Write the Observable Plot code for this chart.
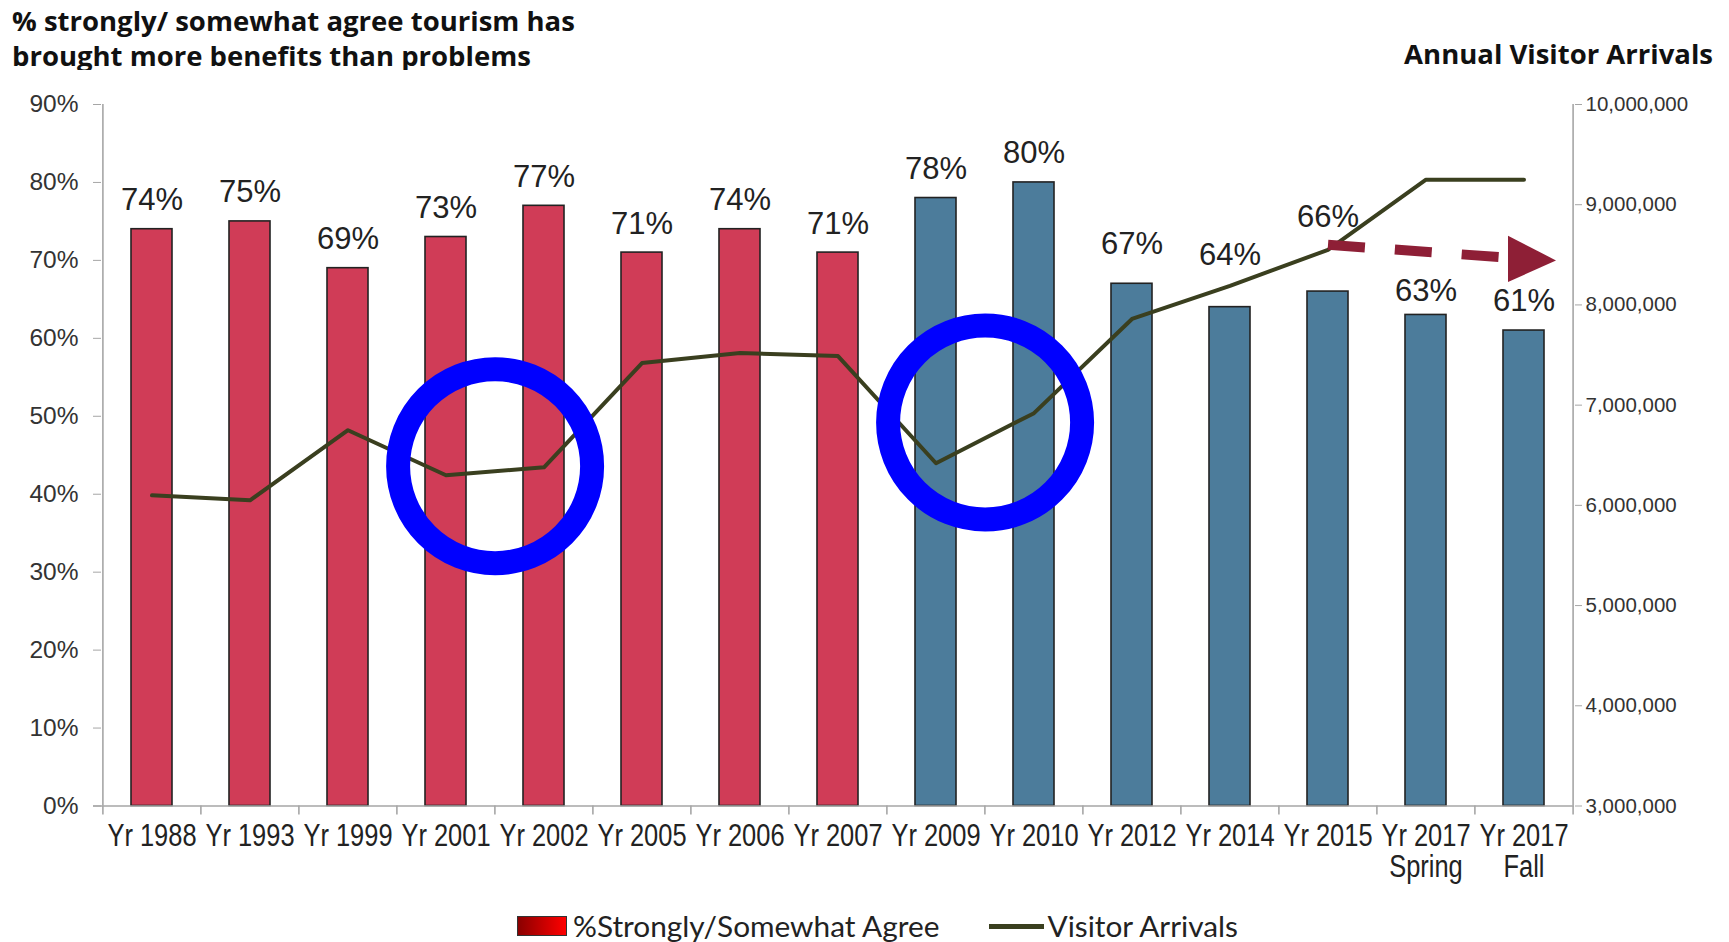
<!DOCTYPE html>
<html><head><meta charset="utf-8">
<script src="https://cdn.jsdelivr.net/npm/d3@7"></script>
<script src="https://cdn.jsdelivr.net/npm/@observablehq/plot@0.6"></script>
<style>
body{margin:0;background:#fff;}
#wrap{position:relative;width:1729px;height:942px;overflow:hidden;font-family:"Liberation Sans",Arial,sans-serif;color:#111;}
#title{position:absolute;left:12px;top:3px;font-family:"Open Sans","Noto Sans",sans-serif;font-weight:700;font-size:27.5px;line-height:35px;white-space:nowrap;}
#rtitle{position:absolute;right:16px;top:36px;font-family:"Open Sans","Noto Sans",sans-serif;font-weight:700;font-size:27.5px;line-height:35px;white-space:nowrap;}
#chart{position:absolute;left:0;top:70px;}
#legend{position:absolute;left:517px;top:911px;height:30px;line-height:30px;display:flex;align-items:center;font-family:Lato,"Liberation Sans",sans-serif;font-size:29.8px;color:#222;white-space:nowrap;}
.sw{width:48px;height:18px;border:1px solid #333;background:linear-gradient(90deg,#8a0000,#ff0000);margin-right:6px;}
.ln{width:55px;height:5px;background:#3a3f1f;margin:0 3px 0 50px;}
</style></head>
<body><div id="wrap">
<div id="title">% strongly/ somewhat agree tourism has<br>brought more benefits than problems</div>
<div id="rtitle">Annual Visitor Arrivals</div>
<div id="chart"></div>
<div id="legend"><div class="sw"></div><span>%Strongly/Somewhat Agree</span><div class="ln"></div><span>Visitor Arrivals</span></div>
</div>
<script>
const categories = ["Yr 1988","Yr 1993","Yr 1999","Yr 2001","Yr 2002","Yr 2005","Yr 2006","Yr 2007","Yr 2009","Yr 2010","Yr 2012","Yr 2014","Yr 2015","Yr 2017 Spring","Yr 2017 Fall"];
const agreePct = [74,75,69,73,77,71,74,71,78,80,67,64,66,63,61];
const colorGroup = ["pre","pre","pre","pre","pre","pre","pre","pre","post","post","post","post","post","post","post"];
const visitorArrivals = [6100000,6050000,6750000,6300000,6380000,7420000,7520000,7490000,6420000,6920000,7860000,8190000,8550000,9250000,9250000];
const labelNudge = [0,0,0,0,0,0,0,0,0,0,1.35,2.9,5.9,-0.6,0];
const leftTicks = [0,10,20,30,40,50,60,70,80,90];
const rightTicks = [3000000,4000000,5000000,6000000,7000000,8000000,9000000,10000000];
const circleAt = ["Yr 2001","Yr 2009"];
const circleLevel = [43.6,49.2];
const trendFrom = ["Yr 2015", 72.0];
const trendTo = ["Yr 2017 Fall", 70.2];

const W = 1729, H = 820, mL = 101, mR = 155, mT = 34, mB = 84.5;
const step = (W - mL - mR) / categories.length;
const rMin = 3000000, rMax = 10000000, pMax = 90;
const toPct = v => (v - rMin) / (rMax - rMin) * pMax;
const fromPct = p => rMin + p / pMax * (rMax - rMin);

const rows = categories.map((c, i) => ({
  category: c, agree: agreePct[i], group: colorGroup[i],
  arrivals: toPct(visitorArrivals[i]), labelY: agreePct[i] + labelNudge[i]
}));

const triangleRight = {
  draw(ctx, size) {
    const k = Math.sqrt(size / Math.PI);
    ctx.moveTo(2 * k, 0.1 * k);
    ctx.lineTo(-k, -1.45 * k);
    ctx.lineTo(-k, 1.45 * k);
    ctx.closePath();
  }
};

const axisGray = "#a6a6a6";
const chart = Plot.plot({
  width: W, height: H,
  marginLeft: mL, marginRight: mR, marginTop: mT, marginBottom: mB,
  style: {fontFamily: "'Liberation Sans', Arial, sans-serif", background: "#fff", overflow: "visible"},
  x: {type: "band", domain: categories, paddingInner: 0.58, paddingOuter: 0.29, axis: null},
  y: {domain: [0, pMax], axis: null},
  color: {domain: ["pre", "post"], range: ["#d03c57", "#4c7c9b"]},
  marks: [
    Plot.barY(rows, {x: "category", y: "agree", fill: "group", stroke: "#222", strokeWidth: 1.6}),
    Plot.ruleY([0], {stroke: axisGray, strokeWidth: 1.6, insetLeft: -8}),
    Plot.ruleX([categories[0]], {stroke: axisGray, strokeWidth: 1.6, dx: -step / 2}),
    Plot.ruleX([categories[categories.length - 1]], {stroke: axisGray, strokeWidth: 1.6, dx: step / 2}),
    Plot.ruleX(categories, {x: d => d, y1: 0, y2: 0, insetBottom: -9, dx: -step / 2, stroke: axisGray, strokeWidth: 1.6}),
    Plot.ruleX([categories[categories.length - 1]], {x: d => d, y1: 0, y2: 0, insetBottom: -9, dx: step / 2, stroke: axisGray, strokeWidth: 1.6}),
    Plot.axisY(leftTicks, {anchor: "left", tickSize: 8, tickPadding: 15, stroke: axisGray, fill: "#333", fontSize: 24.5, tickFormat: d => d + "%"}),
    Plot.axisY(rightTicks.map(toPct), {anchor: "right", tickSize: 7, tickPadding: 4, stroke: axisGray, fill: "#333", fontSize: 20.5, tickFormat: d => d3.format(",")(Math.round(fromPct(d)))}),
    Plot.axisX({tickSize: 0, tickPadding: 17.5, fontSize: 31, fill: "#222", lineHeight: 1.0, tickFormat: d => d.replace(/ (Spring|Fall)$/, "\n$1")}),
    Plot.text(rows, {x: "category", y: "labelY", text: d => d.agree + "%", dy: -29, fontSize: 31, fill: "#222"}),
    Plot.line(rows, {x: "category", y: "arrivals", stroke: "#3a3f1f", strokeWidth: 4}),
    Plot.link([0], {x1: () => trendFrom[0], y1: () => trendFrom[1], x2: () => trendTo[0], y2: () => trendTo[1], stroke: "#8e1f36", strokeWidth: 10, strokeDasharray: "37,30"}),
    Plot.dot([0], {x: () => trendTo[0], y: () => trendTo[1], r: 16, symbol: triangleRight, fill: "#8e1f36", stroke: "none"}),
    Plot.dot(circleAt.map((c, i) => ({c, y: circleLevel[i]})), {x: "c", y: "y", dx: step / 2, r: 97, fill: "none", stroke: "#0000ff", strokeWidth: 24})
  ]
});
document.getElementById("chart").appendChild(chart);
// condense the category labels (the reference uses a narrow face)
const condense = el => {
  const w = el.getComputedTextLength();
  if (w > 0) {
    el.setAttribute("textLength", (w * 0.82).toFixed(2));
    el.setAttribute("lengthAdjust", "spacingAndGlyphs");
  }
};
chart.querySelectorAll("text").forEach(t => {
  if (!t.textContent.startsWith("Yr")) return;
  const spans = t.querySelectorAll("tspan");
  if (spans.length) spans.forEach(condense); else condense(t);
});
</script>
</body></html>
